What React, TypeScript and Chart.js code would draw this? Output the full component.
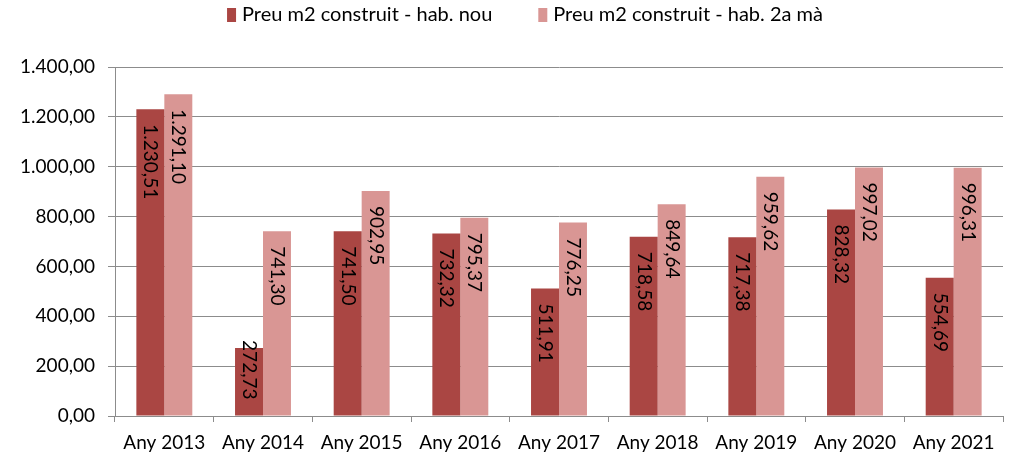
import React, { useEffect, useRef } from "react";
import { Chart, registerables } from "chart.js";

Chart.register(...registerables);

const categories = [
  "Any 2013",
  "Any 2014",
  "Any 2015",
  "Any 2016",
  "Any 2017",
  "Any 2018",
  "Any 2019",
  "Any 2020",
  "Any 2021",
];
const seriesNames = [
  "Preu m2 construit - hab. nou",
  "Preu m2 construit - hab. 2a mà",
];
const habNou = [1230.51, 272.73, 741.5, 732.32, 511.91, 718.58, 717.38, 828.32, 554.69];
const hab2aMa = [1291.1, 741.3, 902.95, 795.37, 776.25, 849.64, 959.62, 997.02, 996.31];
const yMin = 0;
const yMax = 1400;
const yStep = 200;

const colors = ["#AA4643", "#D99694"];
const FONT = "Lato";
const FONT_SIZE = 19;
const LEGEND_FONT_SIZE = 20;
const GRID = "#8c8c8c";

function fmt(v: number): string {
  const [i, d] = v.toFixed(2).split(".");
  return i.replace(/\B(?=(\d{3})+(?!\d))/g, ".") + "," + d;
}

const legendPlugin = {
  id: "customLegend",
  afterDraw(chart: any) {
    const ctx = chart.ctx;
    ctx.save();
    ctx.font = `${LEGEND_FONT_SIZE}px ${FONT}`;
    const boxW = 9;
    const boxH = 14;
    const gap = 6;
    const itemGap = 46;
    const items = chart.data.datasets.map((ds: any) => ({
      text: ds.label,
      color: ds.backgroundColor,
      w: boxW + gap + ctx.measureText(ds.label).width,
    }));
    const total = items.reduce((s: number, it: any) => s + it.w, 0) + itemGap * (items.length - 1);
    let x = 525 - total / 2;
    const cy = 15;
    items.forEach((it: any) => {
      ctx.fillStyle = it.color;
      ctx.fillRect(x, cy - boxH / 2, boxW, boxH);
      ctx.fillStyle = "#000";
      ctx.textAlign = "left";
      ctx.textBaseline = "middle";
      ctx.fillText(it.text, x + boxW + gap, cy);
      x += it.w + itemGap;
    });
    ctx.restore();
  },
};

const labelPlugin = {
  id: "barLabels",
  afterDatasetsDraw(chart: any) {
    const ctx = chart.ctx;
    ctx.save();
    ctx.font = `${FONT_SIZE}px ${FONT}`;
    ctx.fillStyle = "#000";
    ctx.textAlign = "left";
    ctx.textBaseline = "middle";
    chart.data.datasets.forEach((ds: any, di: number) => {
      const meta = chart.getDatasetMeta(di);
      meta.data.forEach((bar: any, i: number) => {
        const text = fmt(ds.data[i]);
        const w = ctx.measureText(text).width;
        const start = Math.min(bar.y + 15, bar.base - 16 - w);
        ctx.save();
        ctx.translate(bar.x, start);
        ctx.rotate(Math.PI / 2);
        ctx.fillText(text, 0, 0);
        ctx.restore();
      });
    });
    ctx.restore();
  },
};

export default function App() {
  const ref = useRef<HTMLCanvasElement | null>(null);
  useEffect(() => {
    document.body.style.margin = "0";
    if (!ref.current) return;
    Chart.defaults.font.family = FONT;
    Chart.defaults.font.size = FONT_SIZE;
    Chart.defaults.color = "#000";
    const chart = new Chart(ref.current, {
      type: "bar",
      data: {
        labels: categories,
        datasets: [
          {
            label: seriesNames[0],
            data: habNou,
            backgroundColor: colors[0],
            categoryPercentage: 0.567,
            barPercentage: 1,
          },
          {
            label: seriesNames[1],
            data: hab2aMa,
            backgroundColor: colors[1],
            categoryPercentage: 0.567,
            barPercentage: 1,
          },
        ],
      },
      options: {
        responsive: false,
        animation: false,
        layout: { padding: { top: 67, right: 10, left: 0, bottom: 0 } },
        plugins: {
          legend: { display: false },
          tooltip: { enabled: false },
        },
        scales: {
          x: {
            grid: {
              offset: true,
              drawOnChartArea: false,
              drawTicks: true,
              tickLength: 6,
              color: GRID,
            },
            border: { display: true, color: GRID, width: 1 },
            ticks: { padding: 9, color: "#000", font: { family: FONT, size: FONT_SIZE } },
            afterFit(scale: any) {
              scale.height = 42;
            },
          },
          y: {
            min: yMin,
            max: yMax,
            ticks: {
              stepSize: yStep,
              padding: 13,
              color: "#000",
              font: { family: FONT, size: FONT_SIZE },
              callback: (v: any) => fmt(Number(v)),
            },
            grid: { color: GRID, tickLength: 7, drawTicks: true },
            border: { display: true, color: GRID, width: 1 },
            afterFit(scale: any) {
              scale.width = 115;
            },
          },
        },
      },
      plugins: [legendPlugin, labelPlugin],
    });
    return () => chart.destroy();
  }, []);
  return (
    <div style={{ position: "absolute", left: 0, top: 0, width: 1013, height: 458 }}>
      <canvas ref={ref} width={1013} height={458} />
    </div>
  );
}
